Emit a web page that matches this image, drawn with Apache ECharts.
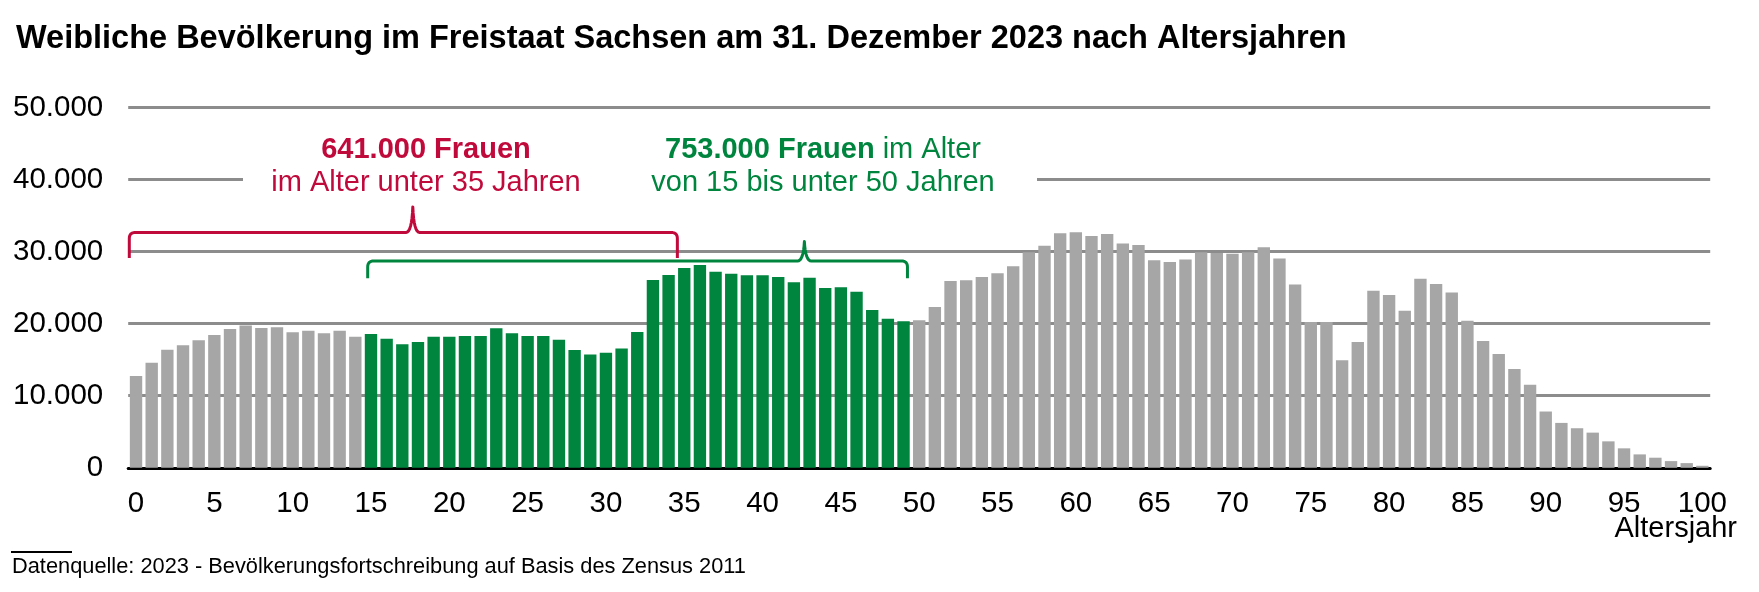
<!DOCTYPE html>
<html>
<head>
<meta charset="utf-8">
<title>Weibliche Bevölkerung Sachsen 2023</title>
<script src="https://cdn.jsdelivr.net/npm/echarts@6.0.0/dist/echarts.min.js"></script>
<style>
  html, body { margin: 0; padding: 0; background: #fff; }
  #main { width: 1759px; height: 592px; }
</style>
</head>
<body>
<div id="main"></div>
<script type="text/javascript">
// Altersjahre 0 bis 100
var ages = [];
for (var a = 0; a <= 100; a++) ages.push(String(a));

// weibliche Bevölkerung je Altersjahr
var women = [
  12730, 14580, 16390, 17000, 17690, 18430, 19260, 19750, 19400, 19500,
  18800, 19030, 18660, 19030, 18200, 18560, 17920, 17130, 17450, 18200,
  18200, 18290, 18290, 19350, 18660, 18290, 18290, 17780, 16340, 15740,
  15970, 16570, 18840, 26060, 26760, 27730, 28150, 27220, 26940, 26710,
  26710, 26480, 25740, 26390, 24950, 25050, 24440, 21900, 20690, 20320,
  20460, 22310, 25930, 26020, 26480, 26990, 27960, 29910, 30830, 32550,
  32690, 32180, 32450, 31110, 30930, 28800, 28560, 28890, 29910, 29810,
  29720, 29910, 30600, 29030, 25420, 20230, 20230, 14910, 17450, 24580,
  23980, 21810, 26250, 25510, 24310, 20420, 17590, 15790, 13700, 11530,
  7810, 6230, 5490, 4880, 3670, 2700, 1860, 1400, 930, 650,
  280
];

// hervorgehobener Bereich 15 bis unter 50
var greenFrom = 15, greenTo = 49;

var yTicks = [0, 10000, 20000, 30000, 40000, 50000];

var FONT = "'Liberation Sans', Arial, sans-serif";
var GREY = '#a6a6a6';
var GREEN = '#00853f';
var RED = '#c00a3c';

var chart = echarts.init(document.getElementById('main'));

var option = {
  animation: false,
  backgroundColor: '#fff',
  textStyle: { fontFamily: FONT },
  title: {
    text: 'Weibliche Bevölkerung im Freistaat Sachsen am 31. Dezember 2023 nach Altersjahren',
    left: 11,
    top: 18,
    textStyle: { fontFamily: FONT, fontSize: 32.5, fontWeight: 'bold', color: '#000' }
  },
  grid: { left: 128.2, right: 48.8, top: 107.5, bottom: 124.2 },
  xAxis: {
    type: 'category',
    data: ages,
    axisTick: { show: false },
    axisLine: { lineStyle: { color: '#000', width: 3 } },
    axisLabel: { interval: 4, fontSize: 29.5, color: '#000', margin: 21, fontFamily: FONT }
  },
  yAxis: {
    type: 'value',
    min: yTicks[0],
    max: yTicks[yTicks.length - 1],
    interval: yTicks[1] - yTicks[0],
    axisLine: { show: false },
    axisTick: { show: false },
    splitLine: { lineStyle: { color: '#8c8c8c', width: 3 } },
    axisLabel: {
      fontSize: 29.5, color: '#000', margin: 25, fontFamily: FONT,
      formatter: function (v) {
        return String(v).replace(/\B(?=(\d{3})+(?!\d))/g, '.');
      }
    }
  },
  series: [
    {
      name: 'Frauen',
      type: 'bar',
      data: women,
      barCategoryGap: '21%',
      itemStyle: {
        color: function (p) {
          return (p.dataIndex >= greenFrom && p.dataIndex <= greenTo) ? GREEN : GREY;
        }
      }
    }
  ]
};

chart.setOption(option);

// Klammern und Beschriftungen
var px0 = chart.convertToPixel({ xAxisIndex: 0 }, ages[0]);
var px100 = chart.convertToPixel({ xAxisIndex: 0 }, ages[100]);
var step = (px100 - px0) / 100;
function xAt(i) { return px0 + i * step; }
function yAt(v) { return chart.convertToPixel({ yAxisIndex: 0 }, v); }

// quadratische Kurve in Punkte zerlegen
function quad(pts, p0, c, p1) {
  for (var k = 1; k <= 8; k++) {
    var t = k / 8, u = 1 - t;
    pts.push([u * u * p0[0] + 2 * u * t * c[0] + t * t * p1[0],
              u * u * p0[1] + 2 * u * t * c[1] + t * t * p1[1]]);
  }
}

function bracePoints(i0, i1, ip, vh, vb, vt) {
  var x0 = xAt(i0), x1 = xAt(i1), xp = xAt(ip);
  var yh = yAt(vh), yb = yAt(vb), yt = yAt(vt);
  var r = 6, w = 7;
  var pts = [[x0, yb], [x0, yh + r]];
  quad(pts, [x0, yh + r], [x0, yh], [x0 + r, yh]);
  pts.push([xp - w, yh]);
  quad(pts, [xp - w, yh], [xp - 1, yh], [xp, yt]);
  quad(pts, [xp, yt], [xp + 1, yh], [xp + w, yh]);
  pts.push([x1 - r, yh]);
  quad(pts, [x1 - r, yh], [x1, yh], [x1, yh + r]);
  pts.push([x1, yb]);
  return pts;
}

chart.setOption({
  graphic: [
    // Lücke in der 40.000er Linie hinter dem Text
    { type: 'rect', z: 50, shape: { x: 243, y: 172, width: 794, height: 14 }, style: { fill: '#fff' } },
    {
      type: 'polyline', z: 60,
      shape: { points: bracePoints(-0.43, 34.56, 17.67, 32650, 29100, 36200) },
      style: { fill: null, stroke: RED, lineWidth: 3, lineJoin: 'round' }
    },
    {
      type: 'polyline', z: 60,
      shape: { points: bracePoints(14.79, 49.25, 42.67, 28700, 26300, 31400) },
      style: { fill: null, stroke: GREEN, lineWidth: 3, lineJoin: 'round' }
    },
    {
      type: 'text', z: 70, x: 426, y: 150,
      style: { text: '641.000 Frauen', font: 'bold 29px ' + FONT, fill: RED, align: 'center', verticalAlign: 'middle' }
    },
    {
      type: 'text', z: 70, x: 426, y: 183,
      style: { text: 'im Alter unter 35 Jahren', font: '29px ' + FONT, fill: RED, align: 'center', verticalAlign: 'middle' }
    },
    {
      type: 'text', z: 70, x: 823, y: 150,
      style: {
        text: '{b|753.000 Frauen} im Alter',
        font: '29px ' + FONT, fill: GREEN, align: 'center', verticalAlign: 'middle',
        rich: { b: { fontWeight: 'bold', fontSize: 29, fontFamily: FONT, fill: GREEN } }
      }
    },
    {
      type: 'text', z: 70, x: 823, y: 183,
      style: { text: 'von 15 bis unter 50 Jahren', font: '29px ' + FONT, fill: GREEN, align: 'center', verticalAlign: 'middle' }
    },
    {
      type: 'text', z: 70, x: 1737, y: 529,
      style: { text: 'Altersjahr', font: '29px ' + FONT, fill: '#000', align: 'right', verticalAlign: 'middle' }
    },
    // Fußnote
    { type: 'line', z: 70, shape: { x1: 11, y1: 552, x2: 72, y2: 552 }, style: { stroke: '#000', lineWidth: 2 } },
    {
      type: 'text', z: 70, x: 12, y: 567,
      style: {
        text: 'Datenquelle: 2023 - Bevölkerungsfortschreibung auf Basis des Zensus 2011',
        font: '21.8px ' + FONT, fill: '#000', align: 'left', verticalAlign: 'middle'
      }
    }
  ]
});
</script>
</body>
</html>
